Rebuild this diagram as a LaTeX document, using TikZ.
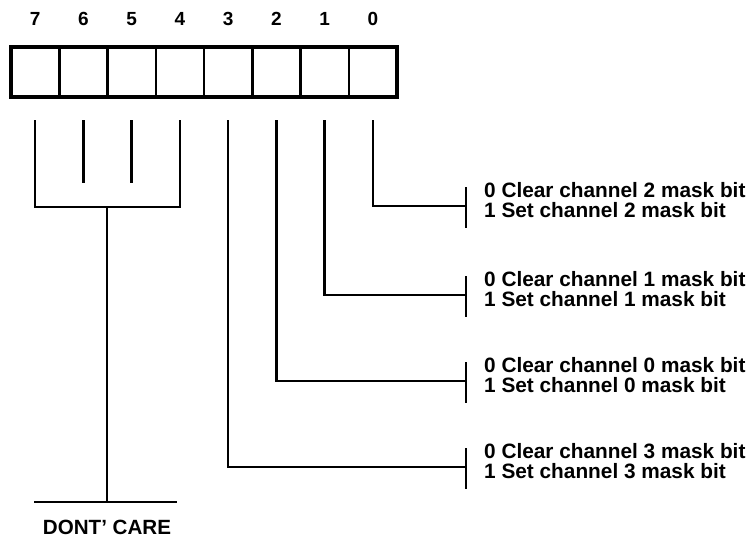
\documentclass[tikz,border=0pt]{standalone}
\usepackage{fontspec}
\setmainfont{Liberation Sans}
\begin{document}
\begin{tikzpicture}[x=1pt,y=-1pt]
\tikzset{
  cell/.style={draw, line width=2.5pt, minimum width=48.25pt, minimum height=50pt, inner sep=0pt, outer sep=0pt},
  frame/.style={line width=3.5pt},
  wire/.style={line width=2.3pt},
  bitnum/.style={font=\bfseries\fontsize{19}{19}\selectfont, inner sep=0pt, anchor=base},
  desc/.style={font=\bfseries\fontsize{20.8}{20}\selectfont, inner sep=0pt, anchor=base west},
}
\useasboundingbox (0,0) rectangle (752,539);
% register cells
\foreach \b in {0,...,7} {
  \node[cell] (c\b) at ({11+48.25*(7-\b)+24.125}, 72) {};
  \node[bitnum] (n\b) at ({11+48.25*(7-\b)+24.125}, 25) {\b};
  \coordinate (t\b) at ({11+48.25*(7-\b)+24.125}, 120);
}
\draw[frame] (c7.north west) rectangle (c0.south east);
% don't care bits 7..4
\coordinate (j) at (107,207);
\coordinate (b) at (107,502);
\coordinate (bl) at (34,502);
\coordinate (br) at (177,502);
\draw[wire] (t7) -- (t7 |- j) -- (t4 |- j) -- (t4);
\draw[wire] (t6) -- ++(0,63);
\draw[wire] (t5) -- ++(0,63);
\draw[wire] (j) -- (b);
\draw[wire] (bl) -- (br);
\node[font=\bfseries\fontsize{20.6}{20}\selectfont, inner sep=0pt, anchor=base] (dc) at (107,534) {DONT’ CARE};
% mask bits 3..0
\foreach \b/\h/\ch in {0/206/2, 1/295/1, 2/381/0, 3/467/3} {
  \coordinate (k\b) at (466,\h);
  \coordinate (ka\b) at (466,{\h-19});
  \coordinate (kb\b) at (466,{\h+22});
  \draw[wire] (t\b) -- (t\b |- k\b) -- (k\b);
  \draw[wire] (ka\b) -- (kb\b);
  \node[desc] (da\b) at (484,{\h-9}) {0 Clear channel \ch\ mask bit};
  \node[desc] (db\b) at (484,{\h+11.5}) {1 Set channel \ch\ mask bit};
}
\end{tikzpicture}
\end{document}
